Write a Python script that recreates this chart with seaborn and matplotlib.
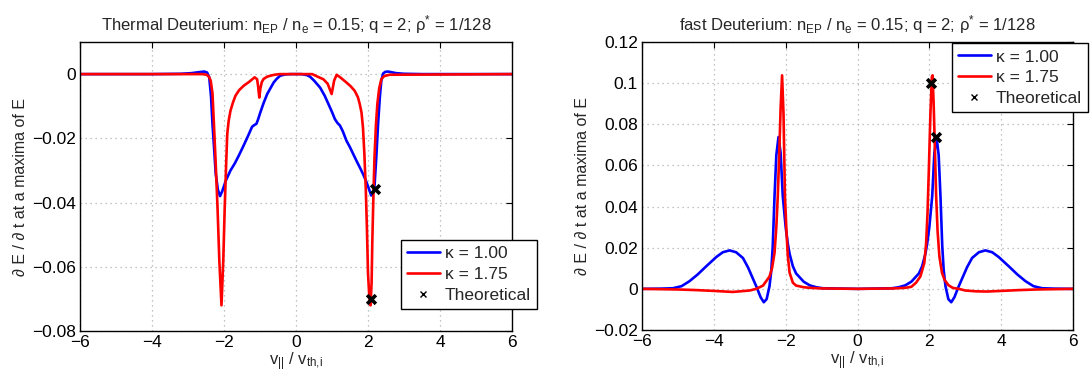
import numpy as np
import pandas as pd
import matplotlib
matplotlib.use("Agg")
import matplotlib.pyplot as plt
from matplotlib.lines import Line2D
from matplotlib.ticker import FuncFormatter
import seaborn as sns

# ---------------- data ----------------
# Left panel: Thermal Deuterium
thermal_k100_x = [-6, -4, -3.2, -2.9, -2.7, -2.55, -2.47, -2.41, -2.36, -2.32, -2.27, -2.23,
                  -2.17, -2.11, -2.05, -1.95, -1.82, -1.7, -1.59, -1.47, -1.35, -1.22, -1.15,
                  -1.10, -1.05, -0.99, -0.9, -0.8, -0.7, -0.62, -0.53, -0.44, -0.3, -0.15, 0,
                  0.15, 0.3, 0.39, 0.5, 0.67, 0.8, 0.9, 1.0, 1.08, 1.15, 1.22, 1.3, 1.4, 1.5,
                  1.59, 1.68, 1.77, 1.87, 1.96, 2.04, 2.09, 2.14, 2.18, 2.23, 2.28, 2.33, 2.37,
                  2.42, 2.48, 2.55, 2.65, 2.78, 3.0, 3.5, 6]
thermal_k100_y = [0, 0, 0.0001, 0.0003, 0.0006, 0.0008, 0.0005, -0.001, -0.007, -0.0155, -0.024,
                  -0.031, -0.036, -0.038, -0.0365, -0.0332, -0.030, -0.0278, -0.0254, -0.0226,
                  -0.0197, -0.0164, -0.0158, -0.0155, -0.0140, -0.0119, -0.0090, -0.0062,
                  -0.0042, -0.0026, -0.0014, -0.0005, -0.0001, 0, 0,
                  0, -0.0003, -0.0008, -0.002, -0.0042, -0.0068, -0.0093, -0.0118, -0.014,
                  -0.0152, -0.016, -0.0178, -0.0207, -0.0228, -0.0249, -0.027, -0.029, -0.0313,
                  -0.0337, -0.0362, -0.0378, -0.037, -0.035, -0.026, -0.0155, -0.007, -0.002,
                  0.0002, 0.0007, 0.0008, 0.0006, 0.0003, 0.0001, 0, 0]

thermal_k175_x = [-6, -2.6, -2.48, -2.42, -2.37, -2.32, -2.28, -2.23, -2.18, -2.13, -2.07, -2.02,
                  -1.98, -1.94, -1.91, -1.87, -1.82, -1.75, -1.68, -1.58, -1.45, -1.3, -1.15,
                  -1.08, -1.05, -1.02, -0.99, -0.95, -0.9, -0.8, -0.71, -0.6, -0.45, 0,
                  0.45, 0.6, 0.76, 0.88, 0.99, 1.06, 1.13, 1.25, 1.4, 1.52, 1.63, 1.72, 1.77,
                  1.82, 1.86, 1.90, 1.94, 1.97, 2.00, 2.04, 2.07, 2.10, 2.12, 2.15, 2.18, 2.22,
                  2.26, 2.31, 2.37, 2.45, 2.6, 6]
thermal_k175_y = [0, 0, -0.0002, -0.0008, -0.002, -0.006, -0.0155, -0.028, -0.0415, -0.058,
                  -0.072, -0.058, -0.0415, -0.028, -0.0187, -0.0145, -0.0114, -0.0088, -0.0067,
                  -0.0050, -0.0036, -0.0024, -0.001, -0.0016, -0.004, -0.0073, -0.0045, -0.0025,
                  -0.0015, -0.0008, -0.0005, -0.0002, 0, 0,
                  0, -0.0008, -0.0016, -0.003, -0.0062, -0.002, -0.0002, -0.0012, -0.0026,
                  -0.0038, -0.0052, -0.0072, -0.0093, -0.012, -0.0166, -0.025, -0.0363, -0.048,
                  -0.062, -0.070, -0.072, -0.065, -0.052, -0.038, -0.026, -0.016, -0.0093,
                  -0.0045, -0.0016, -0.0006, -0.0002, 0]

thermal_theory_x = [2.07, 2.19]
thermal_theory_y = [-0.0700, -0.0357]

# Right panel: fast Deuterium
fast_k100_x = [-6, -5.5, -5.14, -4.9, -4.68, -4.45, -4.21, -3.93, -3.75, -3.56, -3.38, -3.19,
               -3.05, -2.92, -2.8, -2.7, -2.61, -2.53, -2.45, -2.40, -2.36, -2.31, -2.26, -2.20,
               -2.14, -2.08, -2.0, -1.94, -1.89, -1.8, -1.71, -1.62, -1.5, -1.33, -1.15, -0.97, 0,
               0.97, 1.15, 1.33, 1.5, 1.62, 1.71, 1.8, 1.89, 1.94, 2.0, 2.08, 2.14, 2.20, 2.26,
               2.31, 2.36, 2.40, 2.45, 2.53, 2.61, 2.7, 2.8, 2.92, 3.05, 3.19, 3.38, 3.56, 3.75,
               3.93, 4.21, 4.45, 4.68, 4.9, 5.14, 5.5, 6]
fast_k100_y = [0, 0.0001, 0.0003, 0.0013, 0.0037, 0.007, 0.011, 0.0155, 0.0178, 0.0187, 0.0178,
               0.0150, 0.0105, 0.0053, 0.0005, -0.0040, -0.0065, -0.0050, 0.0013, 0.009, 0.0207,
               0.045, 0.065, 0.0738, 0.066, 0.045, 0.030, 0.022, 0.017, 0.011, 0.0075, 0.0058,
               0.0035, 0.0017, 0.0008, 0.0003, 0,
               0.0003, 0.0008, 0.0017, 0.0035, 0.0058, 0.0075, 0.011, 0.017, 0.022, 0.030, 0.045,
               0.066, 0.0738, 0.065, 0.045, 0.0207, 0.009, 0.0013, -0.0050, -0.0065, -0.0040,
               0.0005, 0.0053, 0.0105, 0.0150, 0.0178, 0.0187, 0.0178, 0.0155, 0.011, 0.007,
               0.0037, 0.0013, 0.0003, 0.0001, 0]

fast_k175_x = [-6, -5, -4.5, -4, -3.47, -3.0, -2.82, -2.63, -2.45, -2.38, -2.31, -2.26, -2.22,
               -2.18, -2.14, -2.10, -2.06, -2.02, -1.98, -1.94, -1.89, -1.8, -1.71, -1.5, -1.33,
               -1.0, 0,
               1.0, 1.33, 1.5, 1.63, 1.75, 1.86, 1.91, 1.95, 1.99, 2.03, 2.07, 2.09, 2.12, 2.16,
               2.19, 2.23, 2.28, 2.35, 2.42, 2.53, 2.65, 2.82, 3.0, 3.3, 3.6, 4.0, 4.5, 5, 6]
fast_k175_y = [0, -0.0003, -0.0006, -0.001, -0.0015, -0.0008, 0.0, 0.0016, 0.006, 0.010, 0.0175,
               0.030, 0.045, 0.065, 0.088, 0.1038, 0.085, 0.045, 0.0288, 0.016, 0.0078, 0.003,
               0.0016, 0.0008, 0.0005, 0.0002, 0,
               0.0002, 0.0005, 0.001, 0.003, 0.006, 0.0126, 0.022, 0.037, 0.060, 0.085, 0.1030,
               0.1038, 0.090, 0.065, 0.045, 0.028, 0.0158, 0.008, 0.0045, 0.0018, 0.0005, 0.0,
               -0.0008, -0.0012, -0.0013, -0.001, -0.0006, -0.0003, 0]

fast_theory_x = [2.05, 2.19]
fast_theory_y = [0.1000, 0.0738]

titles = [r"Thermal Deuterium: n$_{EP}$ / n$_{e}$ = 0.15; q = 2; ρ$^{*}$ = 1/128",
          r"fast Deuterium: n$_{EP}$ / n$_{e}$ = 0.15; q = 2; ρ$^{*}$ = 1/128"]
xlabel = r"v$_{||}$ / v$_{th{,}i}$"
ylabel = "∂ E / ∂ t at a maxima of E"
legend_labels = ["κ = 1.00", "κ = 1.75", "Theoretical"]
xticks = [-6, -4, -2, 0, 2, 4, 6]
left_yticks = [-0.08, -0.06, -0.04, -0.02, 0]
right_yticks = [-0.02, 0, 0.02, 0.04, 0.06, 0.08, 0.1, 0.12]

# ---------------- style ----------------
sns.set_style("white")
plt.rcParams["font.family"] = ["Liberation Sans", "DejaVu Sans"]
plt.rcParams["mathtext.fontset"] = "custom"
plt.rcParams["mathtext.rm"] = "Liberation Sans"
plt.rcParams["mathtext.it"] = "Liberation Sans"
plt.rcParams["mathtext.default"] = "regular"
plt.rcParams["axes.unicode_minus"] = True

fig = plt.figure(figsize=(10.9, 3.81), dpi=100)
ax1 = fig.add_axes([80 / 1090, 1 - 331 / 381, 432 / 1090, 289 / 381])
ax2 = fig.add_axes([642 / 1090, 1 - 330 / 381, 431 / 1090, 288 / 381])

fmt = FuncFormatter(lambda v, _: ("%g" % round(v, 6)).replace("-", "\u2212"))

panels = [
    (ax1, thermal_k100_x, thermal_k100_y, thermal_k175_x, thermal_k175_y,
     thermal_theory_x, thermal_theory_y, (-0.08, 0.01), left_yticks, titles[0],
     (400.7 / 1090, 1 - 240 / 381)),
    (ax2, fast_k100_x, fast_k100_y, fast_k175_x, fast_k175_y,
     fast_theory_x, fast_theory_y, (-0.02, 0.12), right_yticks, titles[1],
     (951.7 / 1090, 1 - 43.3 / 381)),
]

for ax, bx, by, rx, ry, tx, ty, ylim, yt, title, leg_anchor in panels:
    d1 = pd.DataFrame({"x": bx, "y": by})
    d2 = pd.DataFrame({"x": rx, "y": ry})
    sns.lineplot(data=d1, x="x", y="y", ax=ax, color="#0000ff", lw=1.9,
                 estimator=None, sort=False)
    sns.lineplot(data=d2, x="x", y="y", ax=ax, color="#ff0000", lw=1.9,
                 estimator=None, sort=False)
    d3 = pd.DataFrame({"x": tx, "y": ty})
    sns.scatterplot(data=d3, x="x", y="y", ax=ax, marker="x", color="black",
                    s=40, linewidth=2.6, zorder=5)
    ax.set_xlim(-6, 6)
    ax.set_ylim(*ylim)
    ax.set_xticks(xticks)
    ax.set_yticks(yt)
    ax.xaxis.set_major_formatter(fmt)
    ax.yaxis.set_major_formatter(fmt)
    ax.grid(True, color="#b0b0b0", linestyle=(0, (1, 3)), linewidth=0.9)
    ax.tick_params(direction="in", top=True, right=True, labelsize=12.5,
                   length=4, width=0.8, colors="black", pad=3)
    for s in ax.spines.values():
        s.set_visible(True)
        s.set_color("black")
        s.set_linewidth(1.0)
    ax.set_xlabel(xlabel, fontsize=12, labelpad=0)
    ax.set_ylabel(ylabel, fontsize=11.5, labelpad=3)
    ax.set_title(title, fontsize=12, pad=8)
    handles = [Line2D([], [], color="#0000ff", lw=1.9),
               Line2D([], [], color="#ff0000", lw=1.9),
               Line2D([], [], ls="none", marker="x", color="black", ms=4, mew=1)]
    leg = ax.legend(handles, legend_labels, loc="upper left", bbox_to_anchor=leg_anchor,
                    bbox_transform=fig.transFigure, borderaxespad=0, fontsize=12.5,
                    frameon=True, fancybox=False, edgecolor="black", framealpha=1,
                    handlelength=1.9, handletextpad=0.3, borderpad=0.35, labelspacing=0.32)
    leg.get_frame().set_linewidth(1.0)

fig.savefig("out.png", dpi=100)
